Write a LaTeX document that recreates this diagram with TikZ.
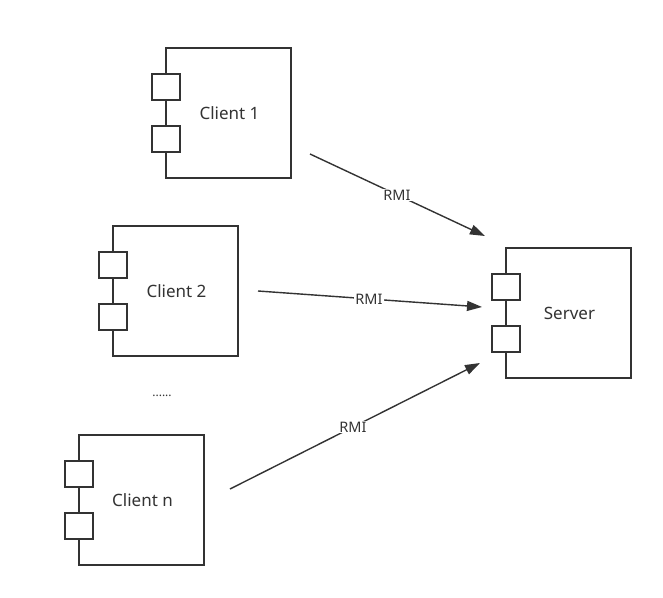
\documentclass[tikz,border=0pt]{standalone}
\usepackage{fontspec}
\setmainfont{Noto Sans}
\usetikzlibrary{arrows.meta}
\definecolor{ink}{HTML}{333333}
\tikzset{
  comp/.style={draw=ink, line width=1.4pt, minimum width=125pt, minimum height=130pt,
    inner sep=0pt, font=\fontsize{17}{20}\selectfont, text=ink, fill=white},
  port/.style={draw=ink, line width=1.4pt, minimum width=28pt, minimum height=26pt,
    inner sep=0pt, fill=white},
  call/.style={draw=ink, line width=1.4pt, -{Triangle[length=15pt,width=10pt]}},
  tag/.style={fill=white, inner sep=1pt, text=ink, font=\fontsize{14.5}{16}\selectfont}
}
\begin{document}
\begin{tikzpicture}[x=1pt, y=-1pt]
\useasboundingbox (0,0) rectangle (663,597);

% components: body, then the two ports on its left edge
\node[comp] (c1) at (228.5,113) {\hspace*{2pt}Client 1};
\node[port] (c1a) at (166,87) {};
\node[port] (c1b) at (166,139) {};

\node[comp] (c2) at (175.5,291) {\hspace*{2pt}Client 2};
\node[port] (c2a) at (113,265) {};
\node[port] (c2b) at (113,317) {};

\node[comp] (cn) at (141.5,500) {\hspace*{2pt}Client n};
\node[port] (cna) at (79,474) {};
\node[port] (cnb) at (79,526) {};

\node[comp] (srv) at (568.5,313) {\hspace*{2pt}Server};
\node[port] (sa) at (506,287) {};
\node[port] (sb) at (506,339) {};

\node[text=ink, font=\fontsize{12}{14}\selectfont] (dots) at (162,396) {......};

% remote calls
\coordinate (f1) at (310,154);
\coordinate (t1) at (485,236);
\coordinate (f2) at (258,291);
\coordinate (t2) at (482,307);
\coordinate (f3) at (230,489);
\coordinate (t3) at (480,363);

\draw[call] (f1) -- (t1);
\draw[call] (f2) -- (t2);
\draw[call] (f3) -- (t3);

\node[tag] (r1) at (397,195) {RMI};
\node[tag] (r2) at (369,299) {RMI};
\node[tag] (r3) at (353,427) {RMI};
\end{tikzpicture}
\end{document}
